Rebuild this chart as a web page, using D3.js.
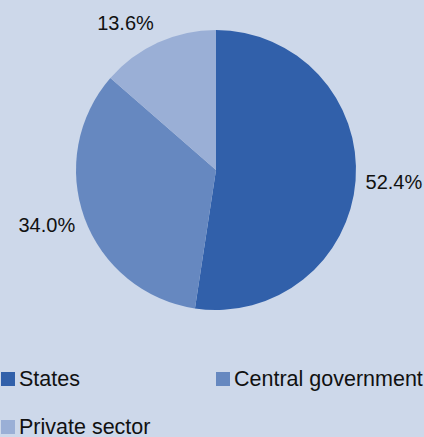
<!DOCTYPE html>
<html>
<head>
<meta charset="utf-8">
<script src="https://cdn.jsdelivr.net/npm/d3@7"></script>
<style>
  html, body { margin: 0; padding: 0; background: #cdd8ea; }
  svg { display: block; }
  text { font-family: "Liberation Sans", Arial, Helvetica, sans-serif; fill: #111; }
</style>
</head>
<body>
<svg id="chart" width="424" height="437"></svg>
<script>
// Funding shares by source (percent)
const categories = ["States", "Central government", "Private sector"];
const shares = [52.4, 34.0, 13.6];
const colors = ["#3160aa", "#6688c0", "#9aafd6"];

const width = 424, height = 437;
const cx = 216, cy = 170, radius = 140;

const svg = d3.select("#chart");
svg.append("rect").attr("width", width).attr("height", height).attr("fill", "#cdd8ea");

const data = categories.map((c, i) => ({ name: c, value: shares[i], color: colors[i] }));

const pie = d3.pie().sort(null).value(d => d.value);
const arc = d3.arc().innerRadius(0).outerRadius(radius);
const arcs = pie(data);

const g = svg.append("g").attr("transform", `translate(${cx},${cy})`);

g.selectAll("path.slice")
  .data(arcs)
  .join("path")
  .attr("class", "slice")
  .attr("d", arc)
  .attr("fill", d => d.data.color);

// Percentage labels sit just outside the rim; anchored on the side facing the pie
const labelR = 150;
const fmt = d3.format(".1f");
g.selectAll("text.pct")
  .data(arcs)
  .join("text")
  .attr("class", "pct")
  .attr("font-size", 20)
  .attr("dominant-baseline", "central")
  .text(d => fmt(d.data.value) + "%")
  .each(function (d) {
    const a = (d.startAngle + d.endAngle) / 2;
    const sx = Math.sin(a), sy = -Math.cos(a);
    const bb = this.getBBox();
    d3.select(this)
      .attr("text-anchor", sx >= 0 ? "start" : "end")
      .attr("x", labelR * sx)
      .attr("y", labelR * sy + sy * bb.height / 2);
  });

// Legend: two columns
const legendCols = [1, 216];
const legendRows = [372, 420];
const sq = 14;
const legend = svg.append("g");
data.forEach((d, i) => {
  const x = legendCols[i % 2];
  const y = legendRows[Math.floor(i / 2)];
  legend.append("rect")
    .attr("x", x).attr("y", y)
    .attr("width", sq).attr("height", sq)
    .attr("fill", d.color);
  legend.append("text")
    .attr("x", x + sq + 4)
    .attr("y", y + sq)
    .attr("font-size", 21.5)
    .text(d.name);
});
</script>
</body>
</html>
